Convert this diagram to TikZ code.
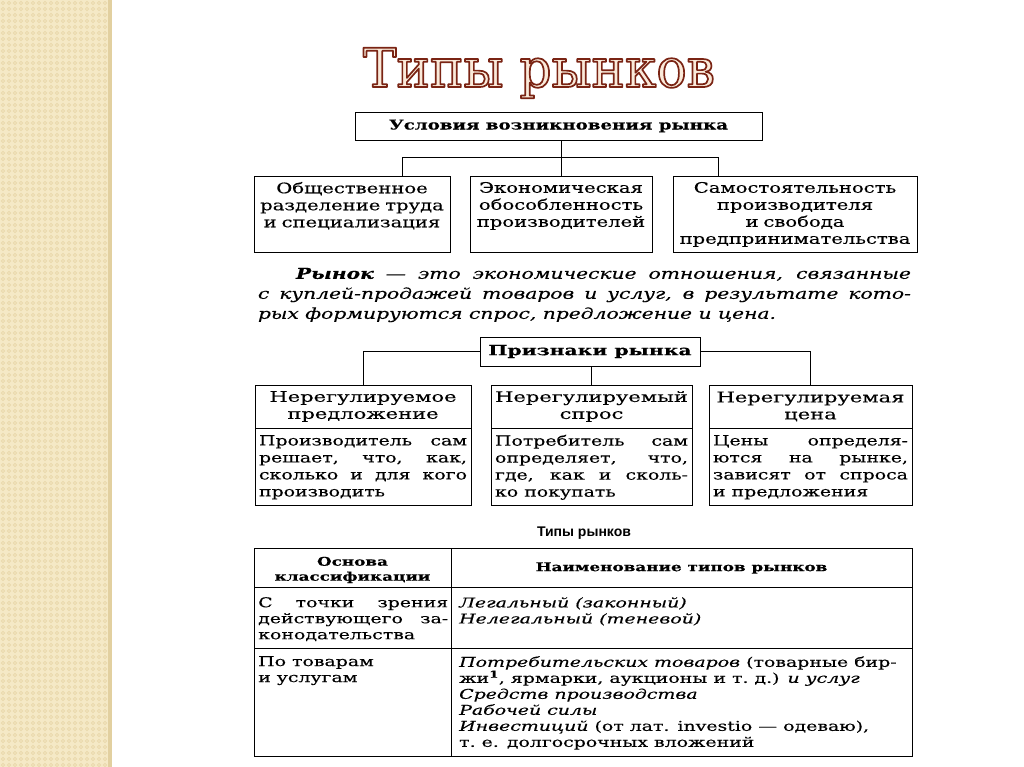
\documentclass[tikz,border=0pt]{standalone}
\usepackage{fontspec}
\setmainfont{DejaVu Serif}[FakeStretch=1.35,FakeBold=0.3]
\newfontfamily\widefont{DejaVu Serif}[FakeStretch=1.45,FakeBold=0.3]
\newfontfamily\tabfont{DejaVu Serif}[FakeStretch=1.4,FakeBold=0.3]
\newfontfamily\titlefont{DejaVu Serif}[FakeStretch=0.93]
\newfontfamily\headfont{Liberation Sans}
\usetikzlibrary{positioning,calc}

\definecolor{paper}{RGB}{245,233,198}
\definecolor{paperdot}{RGB}{232,214,168}
\definecolor{paperedge}{RGB}{226,208,160}
\definecolor{titlefill}{RGB}{250,234,218}

\newcommand{\topcell}[2]{\begin{minipage}[c][#1][t]{\linewidth}\centering #2\end{minipage}}
\newcommand{\outlined}[1]{\special{pdf:literal direct 0.478 0.141 0.078 RG 1 j 2 Tr 1.7 w}#1\special{pdf:literal direct 0 Tr}}

\begin{document}
\begin{tikzpicture}[x=1pt,y=-1pt,
  box/.style={draw,line width=0.8pt,inner sep=0pt,align=center,
    font=\fontsize{14.5}{17}\selectfont},
  signbox/.style={box,font=\widefont\fontsize{14.5}{17}\selectfont},
  bodybox/.style={box,align=justify,font=\fontsize{14}{17}\selectfont},
  link/.style={line width=0.8pt},
  titletext/.style={font=\titlefont\fontsize{54}{60}\selectfont,inner sep=0pt},
  tabtext/.style={inner sep=0pt,anchor=north west,align=left,
    font=\tabfont\fontsize{13.5}{16}\selectfont}]
\useasboundingbox (0,0) rectangle (1024,767);

% left strip
\fill[paper] (0,0) rectangle (108,767);
\foreach \i in {0,...,17}
  \foreach \j in {0,...,127}
    \draw[paperdot,line width=0.7pt] (3+6*\i,3+6*\j) circle (1.7);
\fill[paperedge] (108,0) rectangle (112,767);

% title
\node[titletext,text=titlefill] (title) at (539,73) {\outlined{Типы рынков}};

% conditions
\node[box,minimum width=407,minimum height=28,font=\bfseries\fontsize{13.5}{15}\selectfont]
  (cond) at (558.5,126) {Условия возникновения рынка};
\node[box,minimum width=196,minimum height=76,text width=192] (labour) at (352,214)
  {\topcell{64pt}{Общественное\\ разделение труда\\ и специализация}};
\node[box,minimum width=182,minimum height=76,text width=178] (apart) at (561,214)
  {\topcell{64pt}{Экономическая\\ обособленность\\ производителей}};
\node[box,minimum width=244,minimum height=76,text width=240] (free) at (795,214)
  {\topcell{64pt}{Самостоятельность\\ производителя\\ и свобода\\ предпринимательства}};

\coordinate (kL) at (402,157);
\coordinate (kR) at (718,157);
\draw[link] (kL |- labour.north) -- (kL) -- (kR) -- (kR |- free.north);
\draw[link] (cond.south -| apart.north) -- (apart.north);

% definition
\node[inner sep=0pt,text width=653,align=justify,font=\itshape\fontsize{15}{20}\selectfont]
  (defn) at (584.5,295) {\hspace*{38pt}\textbf{Рынок} — это экономические отношения, связанные\linebreak
  с куплей-продажей товаров и услуг, в результате кото-\linebreak
  рых формируются спрос, предложение и цена.};

% signs
\node[box,minimum width=220,minimum height=29,font=\widefont\bfseries\fontsize{14}{15}\selectfont]
  (signs) at (590,351.5) {Признаки рынка};
\node[signbox,minimum width=216,minimum height=43,text width=210] (supply) at (363,406.5)
  {Нерегулируемое\\ предложение};
\node[bodybox,minimum width=216,minimum height=77,text width=208,below=0pt of supply]
  (supplyb) {Производитель сам\linebreak решает, что, как,\linebreak сколько и для кого\linebreak производить};
\node[signbox,minimum width=201,minimum height=43,text width=197] (demand) at (591.5,406.5)
  {Нерегулируемый\\ спрос};
\node[bodybox,minimum width=201,minimum height=77,text width=193,below=0pt of demand]
  (demandb) {Потребитель сам\linebreak определяет, что,\linebreak где, как и сколь-\linebreak ко покупать};
\node[signbox,minimum width=203,minimum height=43,text width=199] (price) at (810.5,406.5)
  {Нерегулируемая\\ цена};
\node[bodybox,minimum width=203,minimum height=77,text width=195,below=0pt of price]
  (priceb) {Цены определя-\linebreak ются на рынке,\linebreak зависят от спроса\linebreak и предложения};

\draw[link] (supply.north) |- (signs.west);
\draw[link] (price.north) |- (signs.east);
\draw[link] (signs.south -| demand.north) -- (demand.north);

% table
\node[inner sep=0pt,font=\headfont\bfseries\fontsize{14}{15}\selectfont] (tabtitle) at (584,533) {Типы рынков};
\draw[line width=1pt] (254,548) rectangle (912,756);
\draw[line width=0.8pt] (254,587) -- (912,587) (254,648) -- (912,648) (451,548) -- (451,756);
\node[inner sep=0pt,align=center,font=\tabfont\bfseries\fontsize{12}{15}\selectfont] (basis) at (352.5,570)
  {Основа\\ классификации};
\node[inner sep=0pt,font=\tabfont\bfseries\fontsize{12}{15}\selectfont] (kinds) at (681.5,568)
  {Наименование типов рынков};
\node[tabtext,text width=190,align=justify] (lawl) at (258,597)
  {С точки зрения\linebreak действующего за-\linebreak конодательства};
\node[tabtext] (lawr) at (459,597)
  {\itshape Легальный (законный)\\ \itshape Нелегальный (теневой)};
\node[tabtext] (goodsl) at (258,656) {По товарам\\ и услугам};
\node[tabtext] (goodsr) at (459,656)
  {\textit{Потребительских товаров} (товарные бир-\\
   жи\textsuperscript{\textbf{1}}, ярмарки, аукционы и т.~д.) \textit{и услуг}\\
   \textit{Средств производства}\\
   \textit{Рабочей силы}\\
   \textit{Инвестиций} (от лат. investio — одеваю),\\
   т.~е. долгосрочных вложений};
\end{tikzpicture}
\end{document}
